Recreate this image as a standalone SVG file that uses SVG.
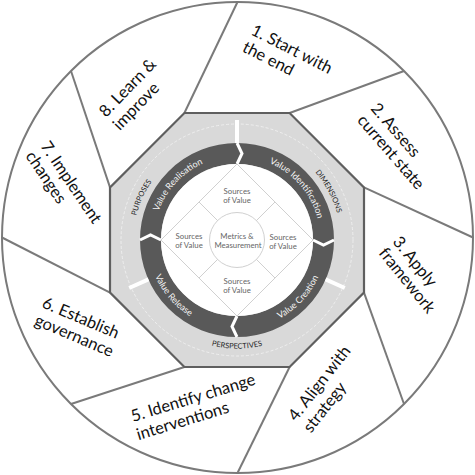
<svg xmlns="http://www.w3.org/2000/svg" width="475" height="475" viewBox="0 0 475 475">
<style>
.seg{font-family:Lato,"Liberation Sans",sans-serif;font-size:16.5px;fill:#111}
.div{stroke:#7a7a7a;stroke-width:2;fill:none}
.band{font-family:Lato,"Liberation Sans",sans-serif;font-size:7.5px;fill:#262626}
.ring{font-family:Lato,"Liberation Sans",sans-serif;font-size:9px;fill:#f4f4f4}
.inner{font-family:Lato,"Liberation Sans",sans-serif;font-size:7.8px;fill:#666;text-anchor:middle}
.chev{stroke:#fff;stroke-width:3;fill:none;stroke-linejoin:miter}
.bar{stroke:#fff;stroke-width:4}
.thin{stroke:#c4c4c4;stroke-width:0.8;fill:none}
</style>
<defs>
<path id="pPur" d="M153.3,300.9 A103.5,103.5 0 0 1 226.2,137.1"/>
<path id="pDim" d="M240.6,136.6 A103.5,103.5 0 0 1 324.8,294.9"/>
<path id="pPer" d="M143,294.3 A108.5,108.5 0 0 0 331,294.3"/>
<path id="pVRl" d="M157.1,264.4 A83.5,83.5 0 0 1 255.8,158.6"/>
<path id="pVId" d="M221.1,158 A83.5,83.5 0 0 1 315.9,267.2"/>
<path id="pVCr" d="M216.9,327.2 A89.5,89.5 0 0 0 322.6,213.8"/>
<path id="pVRe" d="M152.4,210.9 A89.5,89.5 0 0 0 254.1,327.9"/>
</defs>
<rect width="475" height="475" fill="#fff"/>
<circle cx="237.5" cy="237.5" r="235.5" class="div"/>
<g id="dividers">
<line x1="184.4" y1="113" x2="237.5" y2="2" class="div"/>
<line x1="289.6" y1="113" x2="404" y2="71" class="div"/>
<line x1="364" y1="187.4" x2="473" y2="237.5" class="div"/>
<line x1="364" y1="292.6" x2="404" y2="404" class="div"/>
<line x1="289.6" y1="367" x2="237.5" y2="473" class="div"/>
<line x1="184.4" y1="367" x2="71" y2="404" class="div"/>
<line x1="110" y1="292.6" x2="2" y2="237.5" class="div"/>
<line x1="110" y1="187.4" x2="71" y2="71" class="div"/>
</g>
<g id="step1"><text class="seg" transform="translate(250,34) rotate(27)"><tspan x="0" y="0">1. Start with</tspan><tspan x="0" y="19">the end</tspan></text></g>
<g id="step2"><text class="seg" transform="translate(370,109) rotate(49)"><tspan x="0" y="0">2. Assess</tspan><tspan x="0" y="18">current state</tspan></text></g>
<g id="step3"><text class="seg" transform="translate(392,242) rotate(51)"><tspan x="0" y="0">3. Apply</tspan><tspan x="0" y="18">framework</tspan></text></g>
<g id="step4"><text class="seg" transform="translate(296,422) rotate(-52)"><tspan x="0" y="0">4. Align with</tspan><tspan x="0" y="19">strategy</tspan></text></g>
<g id="step5"><text class="seg" transform="translate(133,422) rotate(-17)"><tspan x="0" y="0">5. Identify change</tspan><tspan x="0" y="19">interventions</tspan></text></g>
<g id="step6"><text class="seg" transform="translate(41,307) rotate(23)"><tspan x="0" y="0">6. Establish</tspan><tspan x="0" y="19">governance</tspan></text></g>
<g id="step7"><text class="seg" transform="translate(40,146) rotate(56)"><tspan x="0" y="0">7. Implement</tspan><tspan x="0" y="18">changes</tspan></text></g>
<g id="step8"><text class="seg" transform="translate(106,118) rotate(-46)"><tspan x="0" y="0">8. Learn &amp;</tspan><tspan x="0" y="19">improve</tspan></text></g>
<g id="hub">
<polygon points="184.4,113 289.6,113 364,187.4 364,292.6 289.6,367 184.4,367 110,292.6 110,187.4" fill="#d9d9d9" stroke="#5f5f5f" stroke-width="2.2"/>
<circle cx="237" cy="240" r="116" fill="none" stroke="#f2f2f2" stroke-width="0.8" stroke-dasharray="3 2"/>
<circle cx="237" cy="240" r="86.5" fill="none" stroke="#595959" stroke-width="21"/>
<circle cx="237" cy="240" r="76" fill="#fff"/>
<line x1="237" y1="120" x2="237" y2="143" class="bar"/>
<line x1="325.6" y1="279.4" x2="344.8" y2="288" class="bar"/>
<line x1="148.4" y1="279.4" x2="129.2" y2="288" class="bar"/>
<polyline points="237,143 242,153.5 237,164" class="chev"/>
<polyline points="334,240 323.5,245 313,240" class="chev"/>
<polyline points="237,337 232,326.5 237,316" class="chev"/>
<polyline points="140,240 150.5,235 161,240" class="chev"/>
<text class="band"><textPath href="#pPur" startOffset="50%" text-anchor="middle">PURPOSES</textPath></text>
<text class="band"><textPath href="#pDim" startOffset="50%" text-anchor="middle">DIMENSIONS</textPath></text>
<text class="band"><textPath href="#pPer" startOffset="50%" text-anchor="middle">PERSPECTIVES</textPath></text>
<text class="ring"><textPath href="#pVRl" startOffset="50%" text-anchor="middle">Value Realisation</textPath></text>
<text class="ring"><textPath href="#pVId" startOffset="50%" text-anchor="middle">Value Identification</textPath></text>
<text class="ring"><textPath href="#pVCr" startOffset="50%" text-anchor="middle">Value Creation</textPath></text>
<text class="ring"><textPath href="#pVRe" startOffset="50%" text-anchor="middle">Value Release</textPath></text>
</g>
<g id="core">
<polygon points="237,164 313,240 237,316 161,240" fill="#fff" class="thin"/>
<line x1="199" y1="202" x2="217.6" y2="220.6" class="thin"/>
<line x1="275" y1="202" x2="256.4" y2="220.6" class="thin"/>
<line x1="275" y1="278" x2="256.4" y2="259.4" class="thin"/>
<line x1="199" y1="278" x2="217.6" y2="259.4" class="thin"/>
<circle cx="237" cy="240" r="27.5" fill="#fff" class="thin"/>
<text class="inner" x="237" y="194">Sources<tspan x="237" dy="8.5">of Value</tspan></text>
<text class="inner" x="189" y="239">Sources<tspan x="189" dy="8.5">of Value</tspan></text>
<text class="inner" x="283" y="240">Sources<tspan x="283" dy="8.5">of Value</tspan></text>
<text class="inner" x="237" y="284">Sources<tspan x="237" dy="8.5">of Value</tspan></text>
<text class="inner" x="237" y="239">Metrics &amp;<tspan x="238" dy="8.5">Measurement</tspan></text>
</g>
</svg>
